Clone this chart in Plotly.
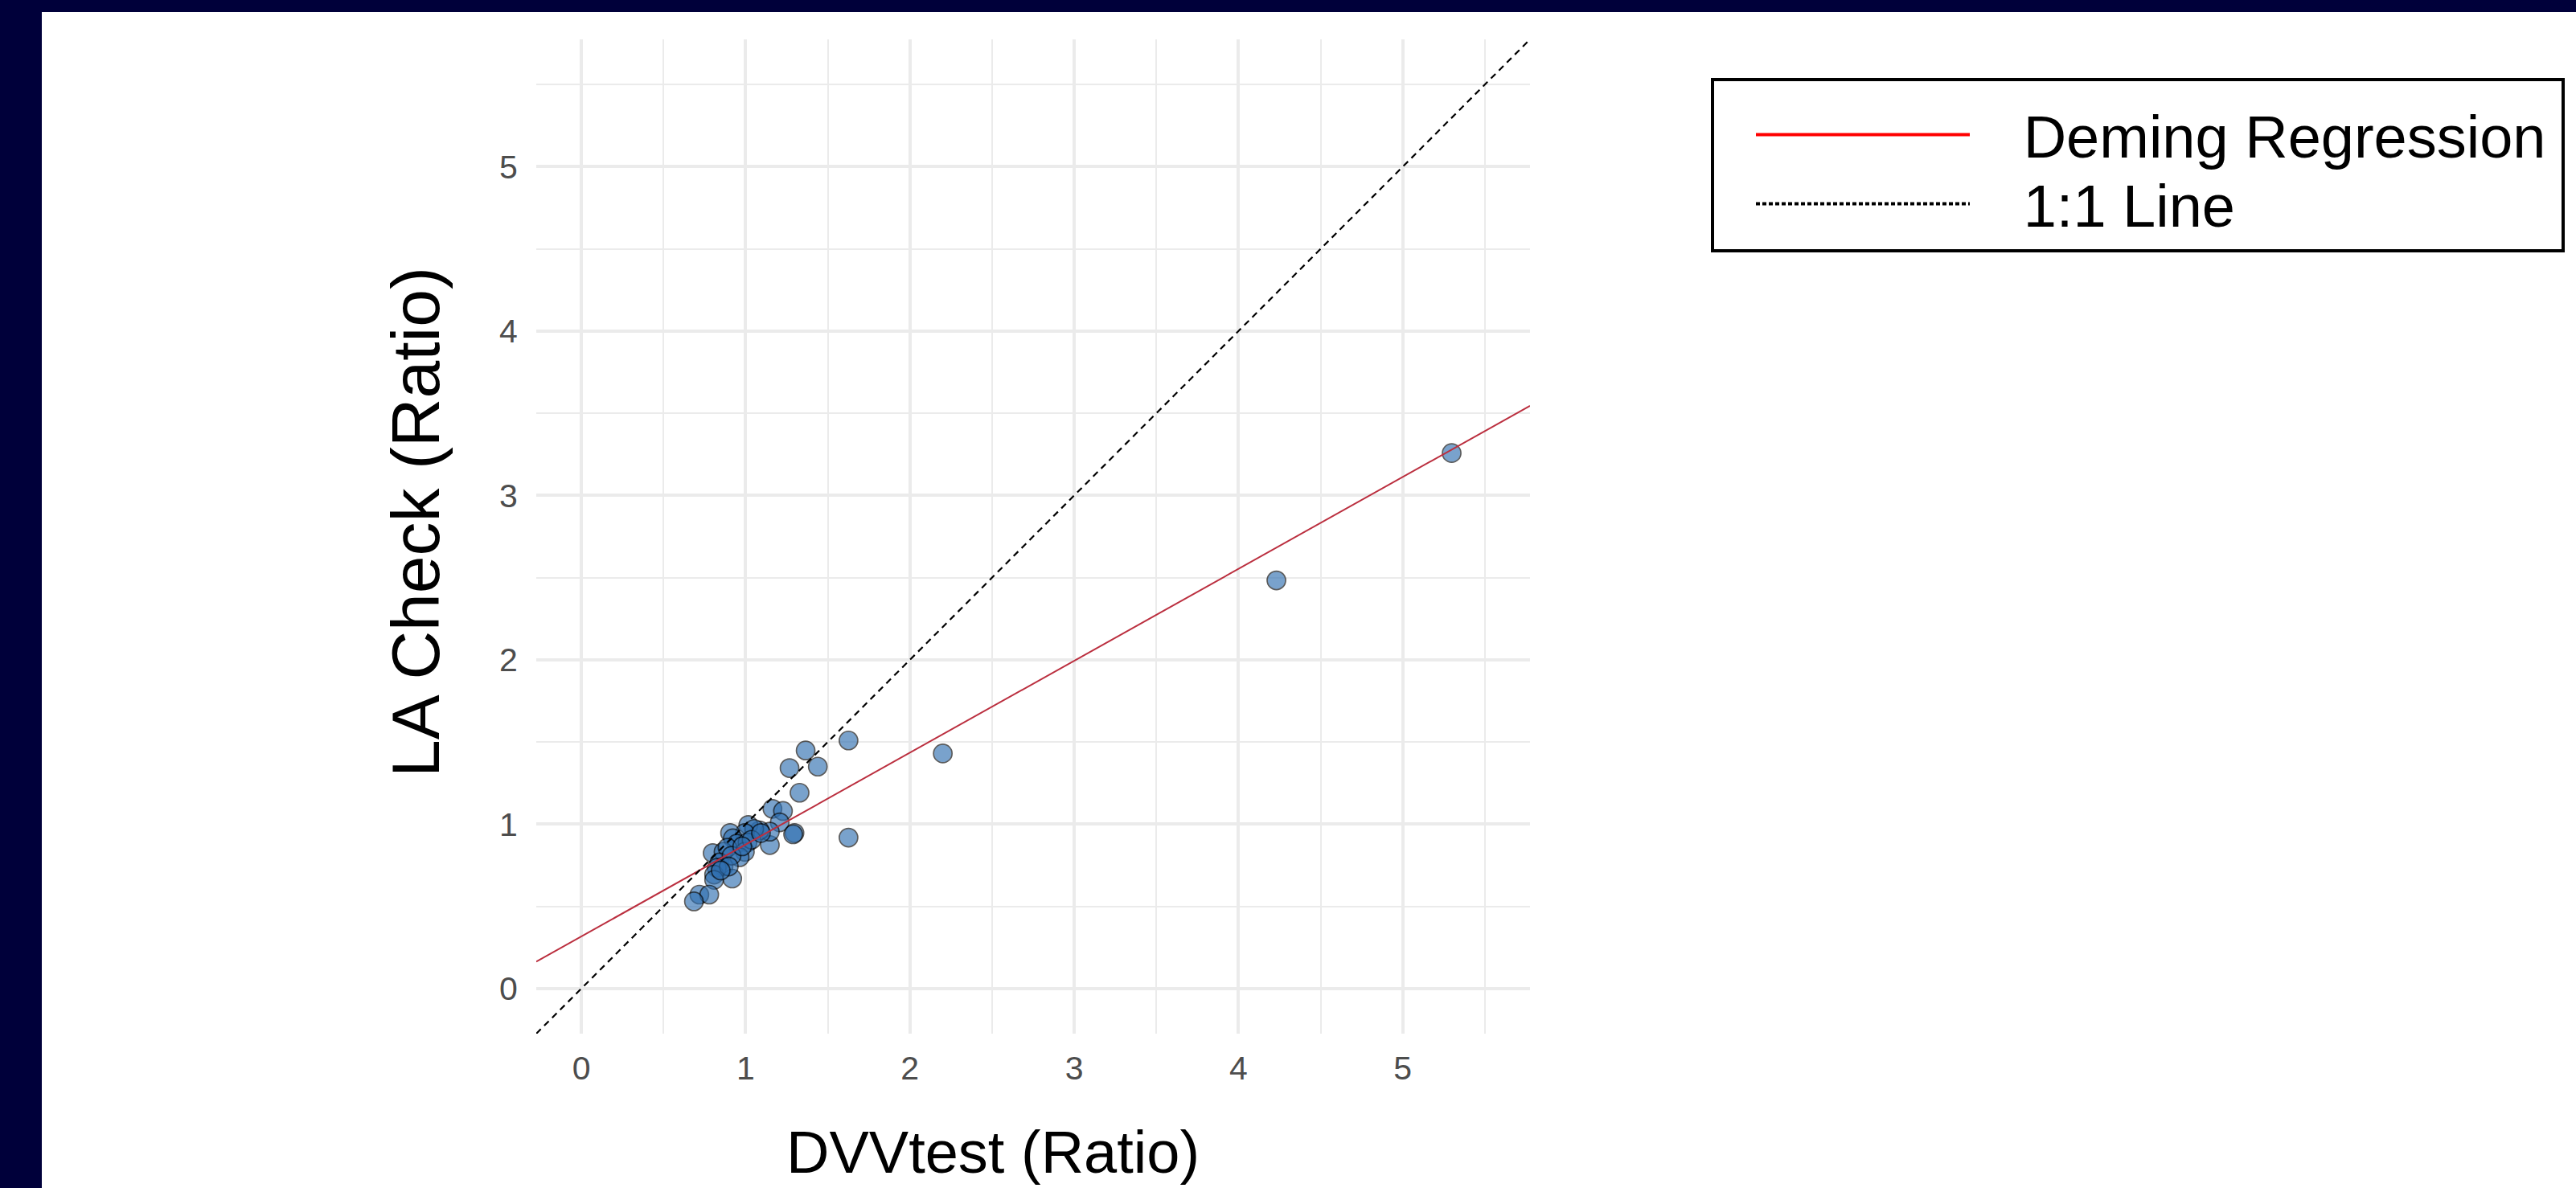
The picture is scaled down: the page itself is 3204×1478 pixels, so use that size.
import plotly.graph_objects as go

# ---------------- data ----------------
dvvtest_ratio = [1.626, 1.365, 1.267, 1.439, 1.328, 1.163, 1.227, 1.207, 1.297, 1.289,
                 1.626, 1.147, 1.147, 1.085, 1.016, 1.052, 0.995, 0.905, 0.922, 0.946,
                 1.011, 0.995, 0.963, 0.799, 0.865, 0.889, 0.840, 0.865, 0.824, 0.808,
                 0.918, 0.808, 0.718, 0.778, 0.685, 0.914, 1.036, 1.093, 0.897, 0.848,
                 0.979, 2.200, 4.231, 5.298]
lacheck_ratio = [1.509, 1.448, 1.341, 1.350, 1.191, 1.093, 1.080, 1.011, 0.946, 0.938,
                 0.918, 0.873, 0.954, 0.962, 0.995, 0.971, 0.946, 0.946, 0.914, 0.881,
                 0.889, 0.832, 0.799, 0.824, 0.832, 0.857, 0.767, 0.742, 0.734, 0.693,
                 0.669, 0.661, 0.571, 0.571, 0.530, 0.808, 0.905, 0.946, 0.742, 0.718,
                 0.865, 1.430, 2.483, 3.258]

deming_intercept = 0.317
deming_slope = 0.559

axis_limits = [0.0, 5.5]          # expanded by 5% as in ggplot
tick_values = [0, 1, 2, 3, 4, 5]
tick_labels = ["0", "1", "2", "3", "4", "5"]

legend_names = ["Deming Regression", "1:1 Line"]
x_title = "DVVtest (Ratio)"
y_title = "LA Check (Ratio)"

# ---------------- layout geometry ----------------
W, H = 3204, 1478
ML, MR, MT, MB = 667, 1301, 49, 192
PW, PH = W - ML - MR, H - MT - MB

span = axis_limits[1] - axis_limits[0]
rng = [axis_limits[0] - 0.05 * span, axis_limits[1] + 0.05 * span]


def px_x(p):
    return (p - ML) / PW


def px_y(p):
    return (H - MB - p) / PH


FONT = "Liberation Sans, Arial, Helvetica, sans-serif"
PAD = "\u00a0" * 3

fig = go.Figure()

fig.add_trace(go.Scatter(
    x=dvvtest_ratio, y=lacheck_ratio, mode="markers",
    marker=dict(size=23, color="#2f6fb0", opacity=0.64,
                line=dict(color="black", width=1.7)),
    showlegend=False, hoverinfo="x+y"))

line_x = rng
fig.add_trace(go.Scatter(
    x=line_x, y=[deming_intercept + deming_slope * v for v in line_x],
    mode="lines", line=dict(color="#bb2f3f", width=2),
    showlegend=False))

fig.add_trace(go.Scatter(
    x=line_x, y=line_x, mode="lines",
    line=dict(color="black", width=2.2, dash="8px,6px"),
    showlegend=False))

# legend entries (one legend box per row so the row spacing can match)
legend_common = dict(xanchor="left", yanchor="top", borderwidth=0,
                     bgcolor="rgba(0,0,0,0)",
                     font=dict(family=FONT, size=74, color="black"),
                     itemwidth=266)
fig.add_trace(go.Scatter(x=[None], y=[None], mode="lines", name=PAD + legend_names[0],
                         line=dict(color="#ff0000", width=4), legend="legend"))
fig.add_trace(go.Scatter(x=[None], y=[None], mode="lines", name=PAD + legend_names[1],
                         line=dict(color="black", width=4, dash="5px,3px"),
                         legend="legend2"))

axis_common = dict(
    range=rng, tickmode="array", tickvals=tick_values, ticktext=tick_labels,
    showgrid=True, gridcolor="#ebebeb", gridwidth=3.5, zeroline=False,
    showline=False, ticks="outside", tickcolor="rgba(0,0,0,0)",
    tickfont=dict(family=FONT, size=41, color="#4d4d4d"),
    minor=dict(dtick=0.5, tick0=0, showgrid=True, gridcolor="#ebebeb",
               gridwidth=2, ticks=""),
    fixedrange=True,
)
fig.update_xaxes(**axis_common, ticklen=7)
fig.update_yaxes(**axis_common, ticklen=14)

fig.update_layout(
    width=W, height=H,
    margin=dict(l=ML, r=MR, t=MT, b=MB, autoexpand=False),
    paper_bgcolor="#00003a", plot_bgcolor="white",
    font=dict(family=FONT, color="black"),
    showlegend=True,
    legend=dict(x=px_x(2179), y=px_y(113), **legend_common),
    legend2=dict(x=px_x(2179), y=px_y(199), **legend_common),
    shapes=[
        dict(type="rect", xref="paper", yref="paper", layer="below",
             x0=px_x(52), x1=px_x(W + 50), y0=px_y(H + 50), y1=px_y(15),
             fillcolor="white", line=dict(width=0)),
        dict(type="rect", xref="paper", yref="paper", layer="above",
             x0=px_x(2130), x1=px_x(3188), y0=px_y(312), y1=px_y(99),
             fillcolor="white", line=dict(color="black", width=4)),
    ],
    annotations=[
        dict(text=x_title, xref="paper", yref="paper", x=px_x(1235), y=px_y(1433),
             xanchor="center", yanchor="middle", showarrow=False,
             font=dict(family=FONT, size=74, color="black")),
        dict(text=y_title, xref="paper", yref="paper", x=px_x(517), y=px_y(650),
             xanchor="center", yanchor="middle", showarrow=False, textangle=-90,
             font=dict(family=FONT, size=84, color="black")),
    ],
)

fig.write_html("out.html",
               config={"displayModeBar": False},
               post_script="document.body.style.margin='0';"
                           "document.body.style.background='#00003a';")
